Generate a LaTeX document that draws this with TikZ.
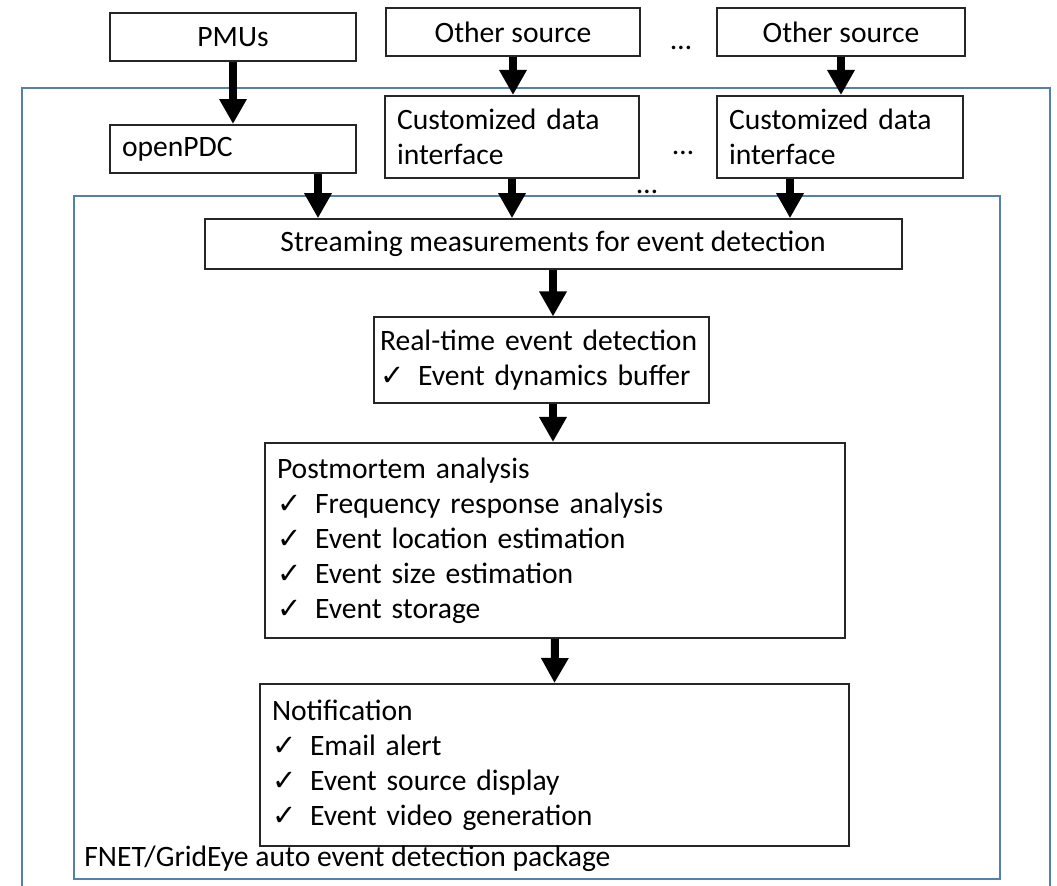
\documentclass[tikz,border=0pt]{standalone}
\usepackage{fontspec}
\setmainfont{Carlito}
\newfontfamily\tickfont{DejaVu Sans}
\usetikzlibrary{arrows.meta,positioning}
\definecolor{groupblue}{RGB}{84,128,176}
\newcommand{\chk}{\makebox[19pt][l]{\tickfont\fontsize{14.5}{14.5}\selectfont ✓}}

\begin{document}
\begin{tikzpicture}[x=0.5pt,y=-0.5pt,font=\fontsize{14.8}{17.5}\selectfont]
    \tikzset{block/.style= {draw=black!85, line width=1pt
    , inner sep=6pt
    , align=left
      },
      feed/.style={line width=4pt, -{Triangle[width=13pt,length=12.5pt]}},
      group/.style={draw=groupblue, line width=0.8pt}
    }
\useasboundingbox (0,0) rectangle (1057,886);

% package frames
\draw[group] (22,88) rectangle (1050,900);
\draw[group] (74,196) rectangle (1000,879);

\node [block, align=center, minimum width=123pt, minimum height=24pt] (pmu) at (233,37) {PMUs};
\node [block, align=center, minimum width=127pt, minimum height=24pt] (src1) at (513,32) {Other source};
\node [block, align=center, minimum width=124pt, minimum height=24pt] (src2) at (841,32) {Other source};
\node (dotsA) at (681,48) {…};

\node [block, text width=111pt, minimum height=23pt] (pdc) at (233,149) {openPDC};
\node [block, text width=115pt, minimum height=41pt] (ifc1) at (512,137) {Customized data\\interface};
\node [block, text width=111pt, minimum height=41pt] (ifc2) at (840,137) {Customized data\\interface};
\node (dotsB) at (683,153) {…};
\node (dotsC) at (647,192) {…};

\node [block, align=center, minimum width=348.5pt, minimum height=23.5pt] (stream) at (553,244) {Streaming measurements for event detection};
\node [block, inner xsep=3pt, text width=161.5pt, minimum height=43pt] (rt) at (541.5,360.5) {Real-time event detection\\
  \chk Event dynamics buffer};
\node [block, text width=278pt, minimum height=97.5pt] (post) at (555,540.5) {Postmortem analysis\\
  \chk Frequency response analysis\\
  \chk Event location estimation\\
  \chk Event size estimation\\
  \chk Event storage};
\node [block, text width=282.5pt, minimum height=81pt] (note) at (554.5,765) {Notification\\
  \chk Email alert\\
  \chk Event source display\\
  \chk Event video generation};
\node [anchor=west, inner sep=2pt] (pkg) at (80,859) {FNET/GridEye auto event detection package};

\coordinate (pdcout) at ([xshift=42.5pt]pdc.south);
\coordinate (ifcout) at ([xshift=-25pt]ifc2.south);

 \draw[feed] (pmu.south) -- (pdc.north);
 \draw[feed] (src1.south) -- (src1.south |- ifc1.north);
 \draw[feed] (src2.south) -- (src2.south |- ifc2.north);
 \draw[feed] (pdcout) -- (pdcout |- stream.north);
 \draw[feed] (ifc1.south) -- (ifc1.south |- stream.north);
 \draw[feed] (ifcout) -- (ifcout |- stream.north);
 \draw[feed] (stream.south) -- (stream.south |- rt.north);
 \draw[feed] (rt.south -| stream.south) -- (post.north -| stream.south);
 \draw[feed] (post.south) -- (note.north);
\end{tikzpicture}
\end{document}
